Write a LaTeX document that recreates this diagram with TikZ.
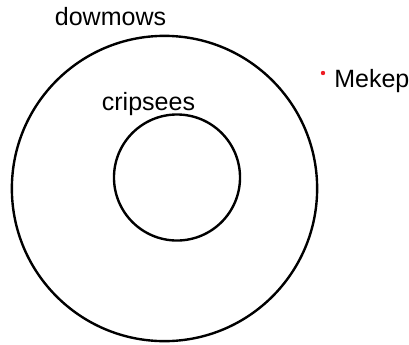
\documentclass[tikz,border=0pt]{standalone}
\usepackage{fontspec}
\setmainfont{Liberation Sans}
\usetikzlibrary{positioning}
\definecolor{dotRed}{RGB}{237,28,36}

\begin{document}
\begin{tikzpicture}[x=0.025cm,y=-0.025cm]
\useasboundingbox (0,0) rectangle (409,344);
\node[circle,draw,line width=1.7pt,minimum size=7.63cm,inner sep=0pt] (outer) at (164.5,188.5) {};
\node[circle,draw,line width=1.7pt,minimum size=3.15cm,inner sep=0pt] (inner) at (177,177.5) {};
\node[anchor=base,inner sep=0pt] (outerlbl) at (110.5,25.5) {\fontsize{17.8}{20}\selectfont dowmows};
\node[anchor=base,inner sep=0pt] (innerlbl) at (148.5,110) {\fontsize{17.8}{20}\selectfont cripsees};
\node[circle,fill=dotRed,inner sep=0pt,minimum size=0.11cm] (dot) at (323,73) {};
\node[anchor=base west,inner sep=0pt] (pointlbl) at (334,87) {\fontsize{17.8}{20}\selectfont Mekep};
\end{tikzpicture}
\end{document}
